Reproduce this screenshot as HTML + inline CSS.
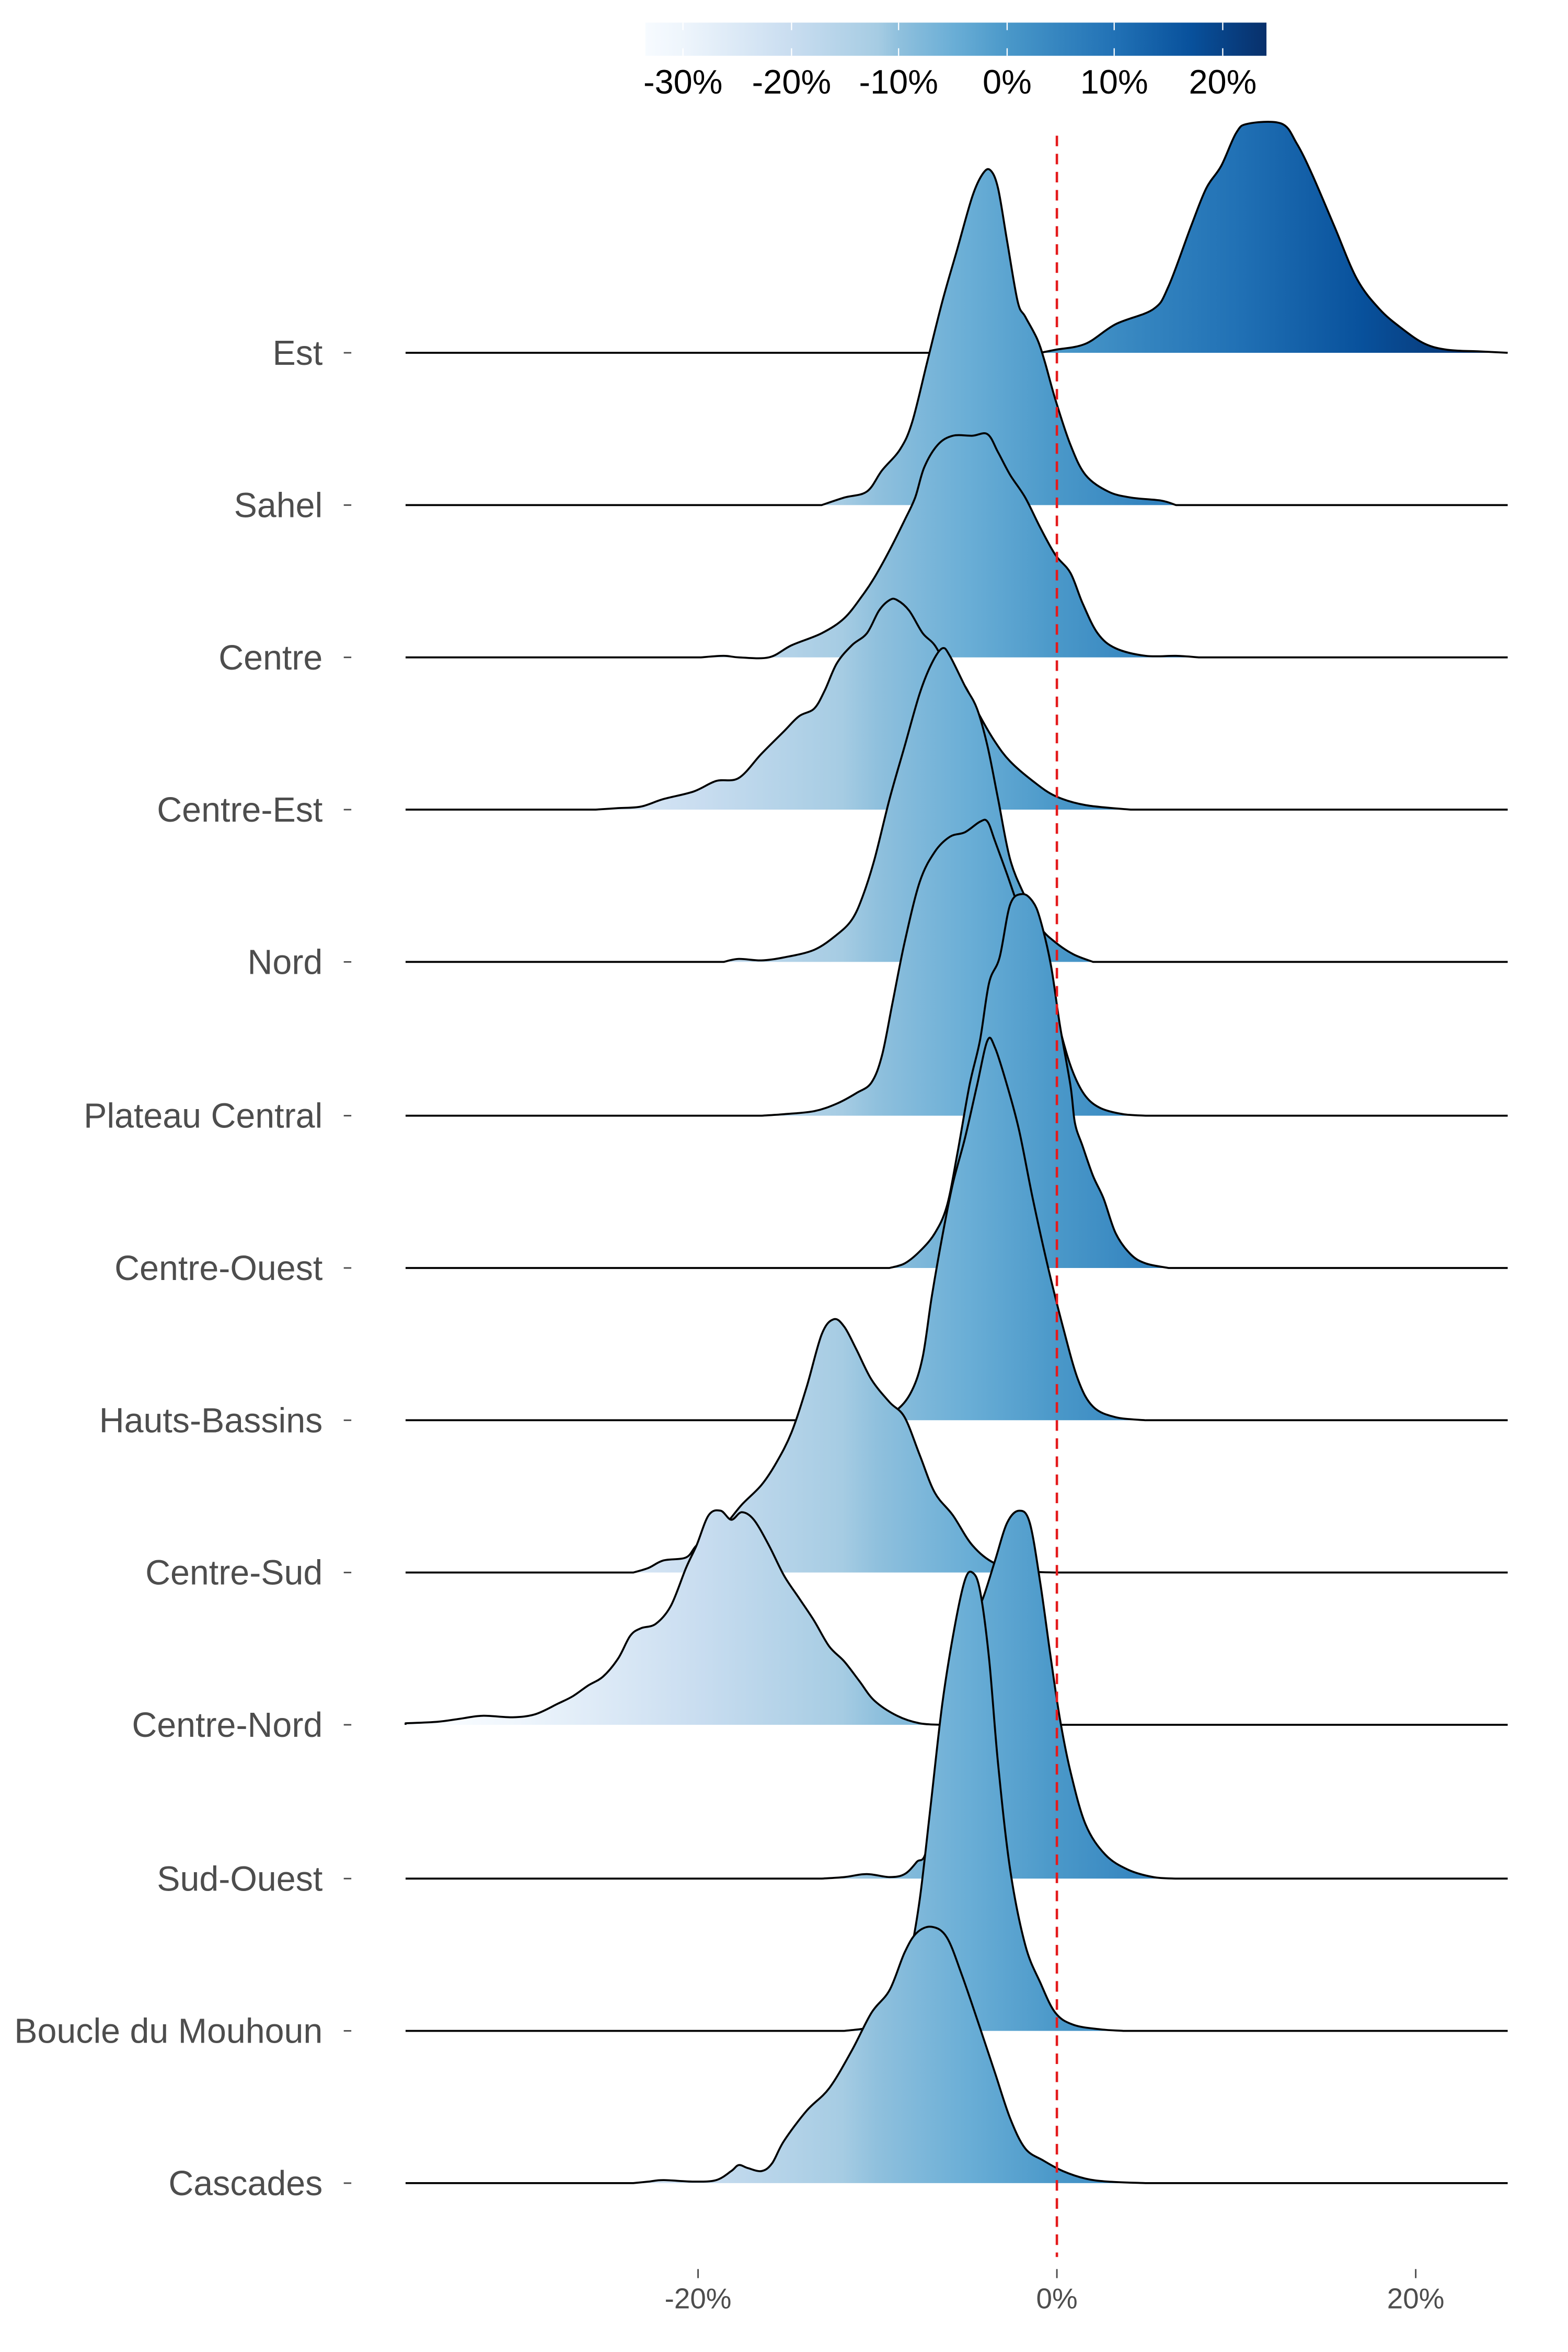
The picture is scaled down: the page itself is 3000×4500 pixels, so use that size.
<!DOCTYPE html>
<html><head><meta charset="utf-8"><style>
html,body{margin:0;padding:0;background:#fff}
svg{display:block}
</style></head><body>
<svg id="s" width="3000" height="4500" viewBox="0 0 1040 1560" xmlns="http://www.w3.org/2000/svg" font-family="Liberation Sans, sans-serif">
<defs>
<linearGradient id="g" gradientUnits="userSpaceOnUse" x1="302" y1="0" x2="987" y2="0">
<stop offset="0" stop-color="#f7fbff"/>
<stop offset="0.061" stop-color="#eef5fc"/>
<stop offset="0.235" stop-color="#c9ddf0"/>
<stop offset="0.374" stop-color="#a6cce3"/>
<stop offset="0.409" stop-color="#8fc0dd"/>
<stop offset="0.496" stop-color="#6aaed6"/>
<stop offset="0.583" stop-color="#4a98c9"/>
<stop offset="0.67" stop-color="#3484bf"/>
<stop offset="0.757" stop-color="#2171b5"/>
<stop offset="0.878" stop-color="#08519c"/>
<stop offset="1" stop-color="#08306b"/>
</linearGradient>
<linearGradient id="cb" x1="0" y1="0" x2="1" y2="0">
<stop offset="0" stop-color="#f7fbff"/>
<stop offset="0.061" stop-color="#eef5fc"/>
<stop offset="0.235" stop-color="#c9ddf0"/>
<stop offset="0.374" stop-color="#a6cce3"/>
<stop offset="0.409" stop-color="#8fc0dd"/>
<stop offset="0.496" stop-color="#6aaed6"/>
<stop offset="0.583" stop-color="#4a98c9"/>
<stop offset="0.67" stop-color="#3484bf"/>
<stop offset="0.757" stop-color="#2171b5"/>
<stop offset="0.878" stop-color="#08519c"/>
<stop offset="1" stop-color="#08306b"/>
</linearGradient>
</defs>
<rect x="428" y="15" width="412" height="22" fill="url(#cb)"/>
<g stroke="#fff" stroke-width="0.8">
<line x1="453" y1="15" x2="453" y2="20"/><line x1="453" y1="32" x2="453" y2="37"/>
<line x1="525" y1="15" x2="525" y2="20"/><line x1="525" y1="32" x2="525" y2="37"/>
<line x1="596" y1="15" x2="596" y2="20"/><line x1="596" y1="32" x2="596" y2="37"/>
<line x1="668" y1="15" x2="668" y2="20"/><line x1="668" y1="32" x2="668" y2="37"/>
<line x1="739" y1="15" x2="739" y2="20"/><line x1="739" y1="32" x2="739" y2="37"/>
<line x1="811" y1="15" x2="811" y2="20"/><line x1="811" y1="32" x2="811" y2="37"/>
</g>
<g font-size="22.5" fill="#000" text-anchor="middle">
<text x="453" y="62">-30%</text><text x="525" y="62">-20%</text><text x="596" y="62">-10%</text>
<text x="668" y="62">0%</text><text x="739" y="62">10%</text><text x="811" y="62">20%</text>
</g>
<g id="ridges"></g>
<line x1="701" y1="90" x2="701" y2="1497" stroke="#e41a1c" stroke-width="1.6" stroke-dasharray="7,5"/>
<g font-size="23" fill="#4d4d4d" text-anchor="end" id="labels"></g>
<g stroke="#4d4d4d" stroke-width="1">
<line x1="463" y1="1505" x2="463" y2="1511"/><line x1="701" y1="1505" x2="701" y2="1511"/><line x1="939" y1="1505" x2="939" y2="1511"/>
</g>
<g font-size="19" fill="#4d4d4d" text-anchor="middle">
<text x="463" y="1531">-20%</text><text x="701" y="1531">0%</text><text x="939" y="1531">20%</text>
</g>
</svg>
<script>
var D=[
["Est",234,[[690,234],[700,232],[720,228],[740,215],[765,205],[775,190],[790,150],[800,125],[810,110],[820,88],[828,82],[850,82],[860,95],[870,115],[885,150],[900,185],[915,205],[930,218],[945,228],[960,232],[980,233]]],
["Sahel",335,[[545,335],[560,330],[575,326],[585,312],[597,298],[605,280],[615,240],[625,200],[635,165],[645,130],[652,115],[657,113],[662,125],[668,160],[675,200],[680,210],[688,225],[693,240],[700,265],[710,295],[720,315],[735,326],[750,330],[770,332],[780,335]]],
["Centre",436,[[465,436],[480,435],[490,436],[510,436],[525,428],[545,420],[560,410],[572,395],[580,383],[590,365],[600,345],[607,330],[613,310],[622,295],[632,289],[645,289],[655,288],[662,300],[670,315],[680,330],[690,350],[700,368],[710,380],[718,400],[728,420],[740,430],[760,435],[780,435],[795,436]]],
["Centre-Est",537,[[395,537],[410,536],[425,535],[440,530],[460,525],[475,518],[490,516],[505,500],[520,485],[530,475],[540,470],[547,458],[555,440],[565,428],[575,420],[583,405],[590,398],[595,398],[603,405],[612,420],[620,428],[630,445],[640,455],[650,475],[660,492],[670,505],[685,518],[700,528],[720,534],[750,537]]],
["Nord",638,[[480,638],[490,636],[505,637],[520,635],[540,630],[555,620],[565,610],[572,595],[580,570],[590,530],[600,495],[610,460],[618,440],[625,430],[630,435],[640,455],[648,470],[655,495],[662,530],[670,570],[680,595],[690,615],[700,625],[712,633],[725,638]]],
["Plateau Central",740,[[505,740],[520,739],[540,737],[555,732],[568,725],[578,718],[585,700],[592,665],[600,625],[610,585],[620,565],[630,555],[640,552],[650,545],[655,545],[660,558],[668,580],[675,600],[685,625],[695,650],[705,690],[712,712],[720,727],[730,735],[745,739],[760,740]]],
["Centre-Ouest",841,[[590,841],[600,838],[610,830],[620,818],[628,800],[635,765],[643,720],[650,690],[656,652],[663,635],[670,600],[678,593],[685,598],[690,610],[697,640],[703,680],[710,720],[713,745],[718,760],[725,780],[732,795],[740,818],[750,832],[760,838],[775,841]]],
["Hauts-Bassins",942,[[580,942],[595,935],[605,922],[612,900],[618,860],[625,820],[632,785],[640,755],[648,720],[655,690],[660,695],[668,720],[676,750],[685,795],[695,840],[705,880],[715,915],[725,933],[740,940],[760,942]]],
["Centre-Sud",1043,[[420,1043],[430,1040],[440,1035],[455,1033],[462,1025],[472,1018],[482,1010],[492,998],[505,985],[515,970],[525,950],[535,920],[545,885],[553,875],[560,880],[568,895],[578,915],[590,930],[600,940],[610,965],[620,990],[632,1005],[645,1025],[660,1037],[680,1042],[700,1043]]],
["Centre-Nord",1144,[[269,1143],[290,1142],[305,1140],[320,1138],[340,1139],[355,1137],[370,1130],[380,1125],[390,1118],[400,1112],[410,1100],[418,1085],[425,1080],[435,1077],[445,1065],[455,1040],[462,1025],[470,1005],[478,1002],[485,1008],[492,1003],[500,1008],[510,1025],[520,1045],[530,1060],[540,1075],[550,1092],[560,1102],[570,1115],[580,1128],[595,1138],[610,1143],[625,1144]]],
["Sud-Ouest",1246,[[545,1246],[560,1245],[575,1243],[590,1245],[600,1243],[608,1235],[615,1225],[625,1160],[633,1120],[640,1095],[645,1075],[652,1060],[660,1035],[668,1010],[676,1002],[683,1010],[690,1050],[697,1100],[703,1140],[710,1175],[720,1210],[733,1230],[748,1240],[765,1245],[780,1246]]],
["Boucle du Mouhoun",1347,[[560,1347],[575,1345],[585,1340],[595,1328],[603,1300],[610,1260],[617,1200],[625,1130],[633,1080],[640,1048],[645,1043],[650,1055],[656,1100],[662,1170],[670,1240],[680,1290],[690,1315],[700,1335],[712,1343],[730,1346],[745,1347]]],
["Cascades",1448,[[420,1448],[430,1447],[440,1446],[460,1447],[475,1446],[485,1440],[490,1436],[496,1438],[505,1440],[512,1435],[520,1420],[535,1400],[550,1385],[565,1360],[578,1335],[590,1320],[600,1295],[608,1282],[618,1278],[628,1285],[638,1310],[650,1345],[660,1375],[670,1405],[680,1425],[692,1433],[705,1440],[720,1445],[735,1447],[760,1448]]]
];
function smooth(p){
 var s="";
 for(var i=0;i<p.length-1;i++){
  var p0=p[i-1]||p[i],p1=p[i],p2=p[i+1],p3=p[i+2]||p2;
  var c1x=p1[0]+(p2[0]-p0[0])/6,c1y=p1[1]+(p2[1]-p0[1])/6;
  var c2x=p2[0]-(p3[0]-p1[0])/6,c2y=p2[1]-(p3[1]-p1[1])/6;
  s+=" C"+c1x.toFixed(2)+","+c1y.toFixed(2)+" "+c2x.toFixed(2)+","+c2y.toFixed(2)+" "+p2[0]+","+p2[1];
 }
 return s;
}
var NS="http://www.w3.org/2000/svg",R=document.getElementById("ridges"),L=document.getElementById("labels");
D.forEach(function(d){
 var b=d[1],p=d[2];
 var line="M269,"+b+" L"+p[0][0]+","+p[0][1]+smooth(p)+" L1000,"+b;
 var f=document.createElementNS(NS,"path");
 f.setAttribute("d",line+" L269,"+b+" Z");f.setAttribute("fill","url(#g)");R.appendChild(f);
 var s=document.createElementNS(NS,"path");
 s.setAttribute("d",line);s.setAttribute("fill","none");s.setAttribute("stroke","#000");s.setAttribute("stroke-width","1.3");s.setAttribute("stroke-linejoin","round");R.appendChild(s);
 var t=document.createElementNS(NS,"text");t.setAttribute("x","214");t.setAttribute("y",b+8);t.textContent=d[0];L.appendChild(t);
 var k=document.createElementNS(NS,"line");k.setAttribute("x1","228");k.setAttribute("x2","233");k.setAttribute("y1",b);k.setAttribute("y2",b);k.setAttribute("stroke","#4d4d4d");k.setAttribute("stroke-width","1");L.appendChild(k);
});
</script>
</body></html>
